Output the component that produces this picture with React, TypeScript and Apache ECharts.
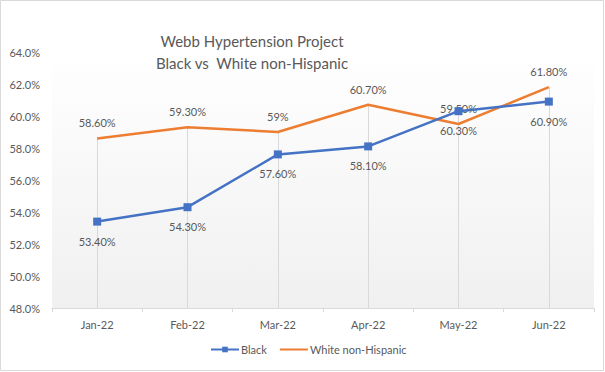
import React, { useEffect, useRef } from "react";
import * as echarts from "echarts";

const categories = ["Jan-22", "Feb-22", "Mar-22", "Apr-22", "May-22", "Jun-22"];
const blackValues = [53.4, 54.3, 57.6, 58.1, 60.3, 60.9];
const whiteValues = [58.6, 59.3, 59.0, 60.7, 59.5, 61.8];
const blackLabels = ["53.40%", "54.30%", "57.60%", "58.10%", "60.30%", "60.90%"];
const whiteLabels = ["58.60%", "59.30%", "59%", "60.70%", "59.50%", "61.80%"];
const yMin = 48;
const yMax = 64;
const yStep = 2;

const FONT = "Lato, 'Noto Sans', sans-serif";

export default function App() {
  const ref = useRef<HTMLDivElement>(null);
  useEffect(() => {
    if (!ref.current) return;
    const chart = echarts.init(ref.current, null, { renderer: "svg" });
    const dropLines = categories.map((c, i) => [
      { coord: [i, Math.max(blackValues[i], whiteValues[i])] },
      { coord: [i, yMin] },
    ]);
    chart.setOption({
      animation: false,
      backgroundColor: "#ffffff",
      textStyle: { fontFamily: FONT },
      title: {
        text: "Webb Hypertension Project\nBlack vs  White non-Hispanic",
        left: 247,
        top: 25,
        textAlign: "center",
        textStyle: {
          fontFamily: FONT,
          fontSize: 15,
          fontWeight: "normal",
          color: "#595959",
          lineHeight: 22,
        },
      },
      graphic: [
        {
          type: "rect",
          shape: { x: 0.5, y: 0.5, width: 603, height: 370 },
          style: { fill: "none", stroke: "#d9d9d9", lineWidth: 1 },
          silent: true,
        },
      ],
      legend: {
        bottom: 12,
        left: 205,
        itemWidth: 28,
        itemHeight: 7,
        itemGap: 12,
        textStyle: { fontFamily: FONT, fontSize: 11, color: "#595959", padding: [0, 0, 0, -3] },
        data: [
          { name: "Black" },
          { name: "White non-Hispanic", itemStyle: { opacity: 0 } },
        ],
      },
      grid: {
        left: 52,
        right: 11,
        top: 52,
        bottom: 64,
        show: true,
        borderWidth: 0,
        backgroundColor: new echarts.graphic.LinearGradient(0, 0, 0, 1, [
          { offset: 0, color: "#ffffff" },
          { offset: 1, color: "#f0f0f0" },
        ]),
      },
      xAxis: {
        type: "category",
        data: categories,
        boundaryGap: true,
        axisLine: { lineStyle: { color: "#d9d9d9", width: 1 } },
        axisTick: { show: true, length: 4, lineStyle: { color: "#d9d9d9" } },
        axisLabel: { fontFamily: FONT, fontSize: 11, color: "#595959", margin: 11 },
        splitLine: { show: false },
      },
      yAxis: {
        type: "value",
        min: yMin,
        max: yMax,
        interval: yStep,
        axisLine: { show: false },
        axisTick: { show: false },
        splitLine: { show: false },
        axisLabel: {
          fontFamily: FONT,
          fontSize: 11,
          color: "#595959",
          margin: 12,
          formatter: (v: number) => `${v.toFixed(1)}%`,
        },
      },
      series: [
        {
          name: "Black",
          type: "line",
          data: blackValues,
          symbol: "rect",
          symbolSize: 8,
          z: 3,
          itemStyle: { color: "#4472C4" },
          lineStyle: { color: "#4472C4", width: 2.5 },
          label: {
            show: true,
            position: "bottom",
            distance: 10,
            fontFamily: FONT,
            fontSize: 11,
            color: "#595959",
            formatter: (p: any) => blackLabels[p.dataIndex],
          },
          markLine: {
            silent: true,
            symbol: "none",
            label: { show: false },
            lineStyle: { color: "#d9d9d9", width: 1, type: "solid" },
            data: dropLines,
            z: 1,
          },
        },
        {
          name: "White non-Hispanic",
          type: "line",
          data: whiteValues,
          symbol: "circle",
          symbolSize: 0,
          showSymbol: true,
          z: 2,
          itemStyle: { color: "#ED7D31" },
          lineStyle: { color: "#ED7D31", width: 2.5 },
          label: {
            show: true,
            position: "top",
            distance: 10,
            fontFamily: FONT,
            fontSize: 11,
            color: "#595959",
            formatter: (p: any) => whiteLabels[p.dataIndex],
          },
        },
      ],
    });
    return () => chart.dispose();
  }, []);
  return (
    <div
      ref={ref}
      style={{ position: "absolute", left: 0, top: 0, width: 605, height: 372 }}
    />
  );
}
